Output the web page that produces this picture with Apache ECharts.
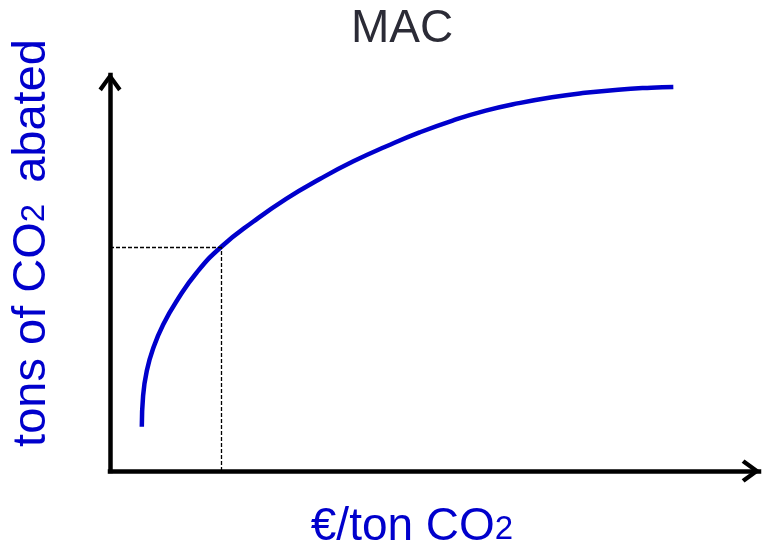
<!DOCTYPE html>
<html>
<head>
<meta charset="utf-8">
<script src="https://cdn.jsdelivr.net/npm/echarts@6/dist/echarts.min.js"></script>
<style>
html,body{margin:0;padding:0;background:#fff;}
#chart{width:763px;height:548px;}
</style>
</head>
<body>
<div id="chart"></div>
<script>
// Data (axis units: 0-100 on both axes, no ticks shown)
var costValues = [4.9, 5.1, 5.7, 6.7, 8.2, 10.3, 13.4, 17.2, 22.1, 27.2, 32.4, 37.5, 42.6, 47.7, 52.8, 57.9, 63.0, 68.1, 73.2, 78.3, 83.4, 86.8];
var abatedValues = [11.2, 19.0, 25.5, 31.2, 37.0, 43.0, 50.2, 56.7, 63.0, 68.8, 73.8, 78.2, 82.0, 85.5, 88.5, 91.0, 92.9, 94.4, 95.5, 96.3, 96.8, 97.0];
var refPoint = [17.2, 56.6]; // dashed guide lines
var titleText = 'MAC';
var xLabelText = ['€/ton CO', '2'];
var yLabelText = ['tons of CO', '2', ' abated'];

var blue = '#0000CC';
var font = 'Liberation Sans, Arial, sans-serif';
var chevron = 'path://M12 0 L24 16.5 L20.5 19.5 L12 7.5 L3.5 19.5 L0 16.5 Z';

var curve = costValues.map(function (x, i) { return [x, abatedValues[i]]; });

var axisCommon = {
  type: 'value', min: 0, max: 100,
  axisTick: { show: false }, axisLabel: { show: false }, splitLine: { show: false },
  axisLine: {
    show: true,
    symbol: ['none', chevron],
    symbolSize: [23, 21],
    lineStyle: { color: '#000', width: 4.5, cap: 'square' }
  }
};

var chart = echarts.init(document.getElementById('chart'), null, { renderer: 'canvas' });
chart.setOption({
  animation: false,
  backgroundColor: '#fff',
  grid: { left: 110, top: 75, right: 4, bottom: 77, containLabel: false },
  xAxis: echarts.util.merge({ axisLine: { symbolOffset: [0, -8] } }, axisCommon, true),
  yAxis: echarts.util.merge({ axisLine: { symbolOffset: [0, -7] } }, axisCommon, true),
  graphic: [
    {
      type: 'text', x: 402, y: 29,
      style: { text: titleText, font: '46px ' + font, fill: '#2b2b36', textAlign: 'center', textVerticalAlign: 'middle' }
    },
    {
      type: 'text', x: 412, y: 527,
      style: {
        text: '{a|' + xLabelText[0] + '}{s|' + xLabelText[1] + '}',
        textAlign: 'center', textVerticalAlign: 'middle', fill: blue,
        rich: {
          a: { fontSize: 46, lineHeight: 46, fontFamily: font, fill: blue, verticalAlign: 'bottom' },
          s: { fontSize: 33, lineHeight: 33, fontFamily: font, fill: blue, verticalAlign: 'bottom', padding: [0, 0, 4, 0] }
        }
      }
    },
    {
      type: 'text', x: 32, y: 243, rotation: Math.PI / 2,
      style: {
        text: '{a|' + yLabelText[0] + '}{s|' + yLabelText[1] + '}{a|' + yLabelText[2] + '}',
        textAlign: 'center', textVerticalAlign: 'middle', fill: blue,
        rich: {
          a: { fontSize: 47, lineHeight: 47, fontFamily: font, fill: blue, verticalAlign: 'bottom' },
          s: { fontSize: 33, lineHeight: 33, fontFamily: font, fill: blue, verticalAlign: 'bottom', padding: [0, 8, 4, 0] }
        }
      }
    }
  ],
  series: [{
    type: 'line',
    data: curve,
    smooth: 0.5,
    showSymbol: false,
    symbol: 'none',
    lineStyle: { color: blue, width: 4.5 },
    markLine: {
      silent: true,
      symbol: 'none',
      label: { show: false },
      lineStyle: { color: '#000', width: 1.3, type: [4, 2] },
      data: [
        [{ coord: [refPoint[0], 0] }, { coord: [refPoint[0], refPoint[1]] }],
        [{ coord: [0, refPoint[1]] }, { coord: [refPoint[0], refPoint[1]] }]
      ]
    }
  }]
});
</script>
</body>
</html>
